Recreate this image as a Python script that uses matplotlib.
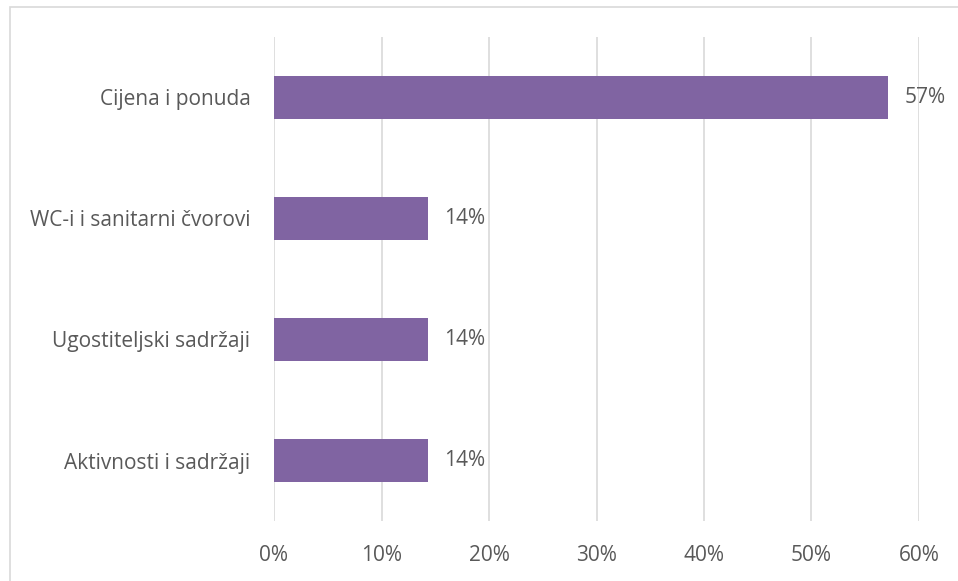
import matplotlib.pyplot as plt
from matplotlib.patches import Rectangle
from matplotlib.ticker import FuncFormatter

# chart data
categories = ["Cijena i ponuda", "WC-i i sanitarni čvorovi", "Ugostiteljski sadržaji", "Aktivnosti i sadržaji"]
values = [4 / 7, 1 / 7, 1 / 7, 1 / 7]
x_ticks = [0, 0.1, 0.2, 0.3, 0.4, 0.5, 0.6]

bar_color = "#8064A2"
text_color = "#595959"
grid_color = "#D9D9D9"

plt.rcParams['font.family'] = ['Open Sans', 'DejaVu Sans']
fs = 15

fig = plt.figure(figsize=(9.58, 5.81), dpi=100)
W, H = 958, 581
ax = fig.add_axes([274 / W, (H - 521) / H, (919 - 274) / W, (521 - 37) / H])

# outer chart border
fig.patches.append(Rectangle((9.5 / W, -0.01), 1.0, (H - 7.5) / H + 0.01, transform=fig.transFigure,
                             fill=False, edgecolor=grid_color, linewidth=1.2))

y = list(range(len(categories)))
bars = ax.barh(y, values, height=0.35, color=bar_color, zorder=3)
for b, v in zip(bars, values):
    ax.text(b.get_width() + 0.0155, b.get_y() + b.get_height() / 2, f"{round(v * 100)}%",
            va="center", ha="left", fontsize=fs, color=text_color)

ax.set_ylim(len(categories) - 0.5, -0.5)
ax.set_xlim(0, 0.6)
ax.set_yticks(y)
ax.set_yticklabels(categories)
ax.set_xticks(x_ticks)
ax.xaxis.set_major_formatter(FuncFormatter(lambda v, p: f"{round(v * 100)}%"))
ax.tick_params(axis="both", length=0, labelsize=fs, colors=text_color)
ax.tick_params(axis="x", pad=17)
ax.tick_params(axis="y", pad=17)

ax.grid(axis="x", color=grid_color, linewidth=1.2, zorder=0)
for s in ax.spines.values():
    s.set_visible(False)

fig.savefig("out.png", dpi=100)
